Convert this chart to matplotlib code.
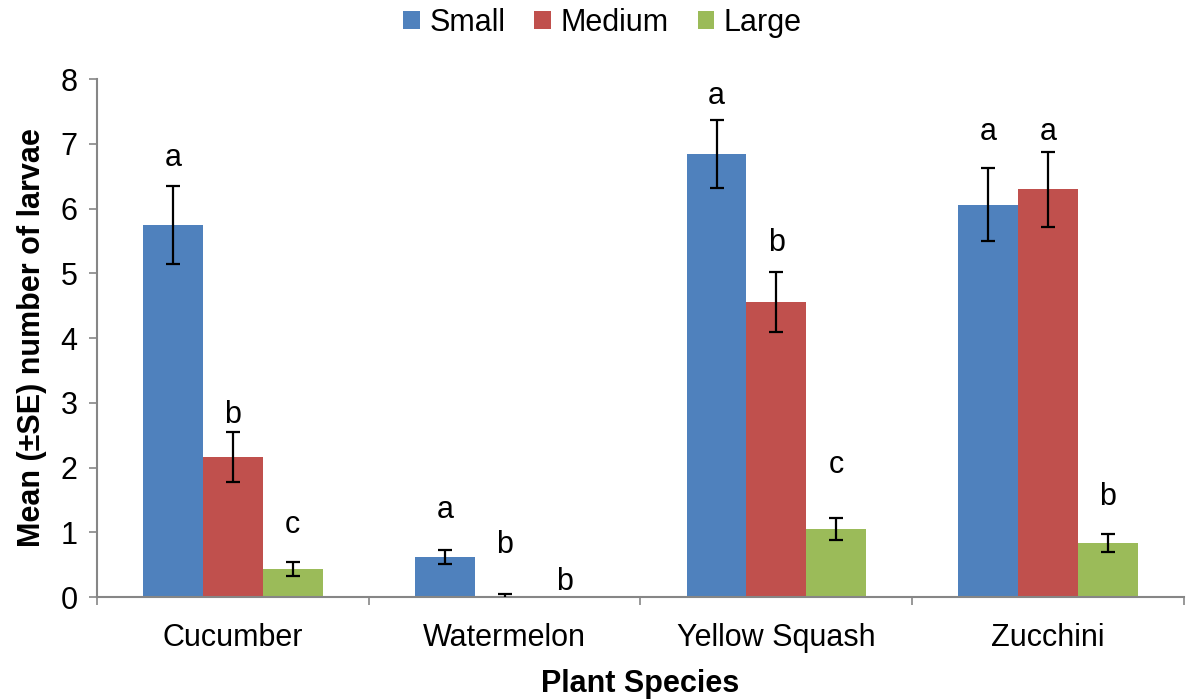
"""
Larvae per plant species and fruit size - bar chart with SE and letters
"""

import numpy as np
import matplotlib
matplotlib.use("Agg")
import matplotlib.pyplot as plt

# ============================================================
# DATA
# ============================================================
especies = ["Cucumber", "Watermelon", "Yellow Squash", "Zucchini"]
tamanhos = ["Small", "Medium", "Large"]

media_small = [5.75, 0.62, 6.84, 6.06]
media_medium = [2.16, 0.0, 4.56, 6.30]
media_large = [0.43, 0.0, 1.05, 0.83]

se_small = [0.60, 0.11, 0.53, 0.56]
se_medium = [0.39, 0.04, 0.46, 0.58]
se_large = [0.11, 0.0, 0.17, 0.14]

letras_small = ["a", "a", "a", "a"]
letras_medium = ["b", "b", "b", "a"]
letras_large = ["c", "b", "c", "b"]

# altura (em unidades do eixo) onde cada letra foi colocada
altura_letra_small = [6.78, 1.34, 7.74, 7.18]
altura_letra_medium = [2.81, 0.80, 5.47, 7.18]
altura_letra_large = [1.11, 0.23, 2.04, 1.54]

# ============================================================
# PLOT
# ============================================================
plt.rcParams['font.family'] = ['Liberation Sans', 'DejaVu Sans']
FS = 22

cores = ["#4F81BD", "#C0504D", "#9BBB59"]
medias = [media_small, media_medium, media_large]
erros = [se_small, se_medium, se_large]
letras = [letras_small, letras_medium, letras_large]
alturas = [altura_letra_small, altura_letra_medium, altura_letra_large]

fig = plt.figure(figsize=(11.86, 7), dpi=100)
ax = fig.add_axes([0.0818, 0.1471, 0.9165, 0.74])

x = np.arange(len(especies))
largura = 0.22

for i, nome in enumerate(tamanhos):
    pos = x + (i - 1) * largura
    ax.bar(pos, medias[i], width=largura, color=cores[i], label=nome, zorder=2)
    m = np.array(medias[i])
    s = np.array(erros[i])
    ok = s > 0
    ax.errorbar(pos[ok], m[ok], yerr=s[ok], fmt='none', ecolor='black',
                elinewidth=1.6, capsize=5, capthick=1.6, zorder=3)
    for p, txt, h in zip(pos, letras[i], alturas[i]):
        ax.text(p, h, txt, ha='center', va='center', fontsize=FS)

ax.set_xlim(-0.5, len(especies) - 0.5)
ax.set_ylim(0, 8)
ax.set_yticks(range(0, 9))

ax.set_xticks(x)
ax.set_xticklabels(especies, fontsize=FS)
ax.set_xticks(np.arange(-0.5, len(especies)), minor=True)
ax.tick_params(axis='x', which='major', length=0, pad=19)
ax.tick_params(axis='x', which='minor', length=6, width=1.2, color='#868686', direction='out')
ax.tick_params(axis='y', length=6, width=1.2, color='#868686', labelsize=FS, pad=8)

for lado in ['top', 'right']:
    ax.spines[lado].set_visible(False)
for lado in ['left', 'bottom']:
    ax.spines[lado].set_color('#868686')
    ax.spines[lado].set_linewidth(1.5)

ax.set_ylabel("Mean (±SE) number of larvae", fontsize=FS, fontweight='bold', labelpad=10)
ax.set_xlabel("Plant Species", fontsize=FS, fontweight='bold', labelpad=11)

fig.legend(loc='upper center', bbox_to_anchor=(0.508, 1.028), ncol=3, frameon=False,
           fontsize=FS, handlelength=0.55, handleheight=0.55, handletextpad=0.3,
           columnspacing=0.95)

plt.savefig("out.png", dpi=100)
